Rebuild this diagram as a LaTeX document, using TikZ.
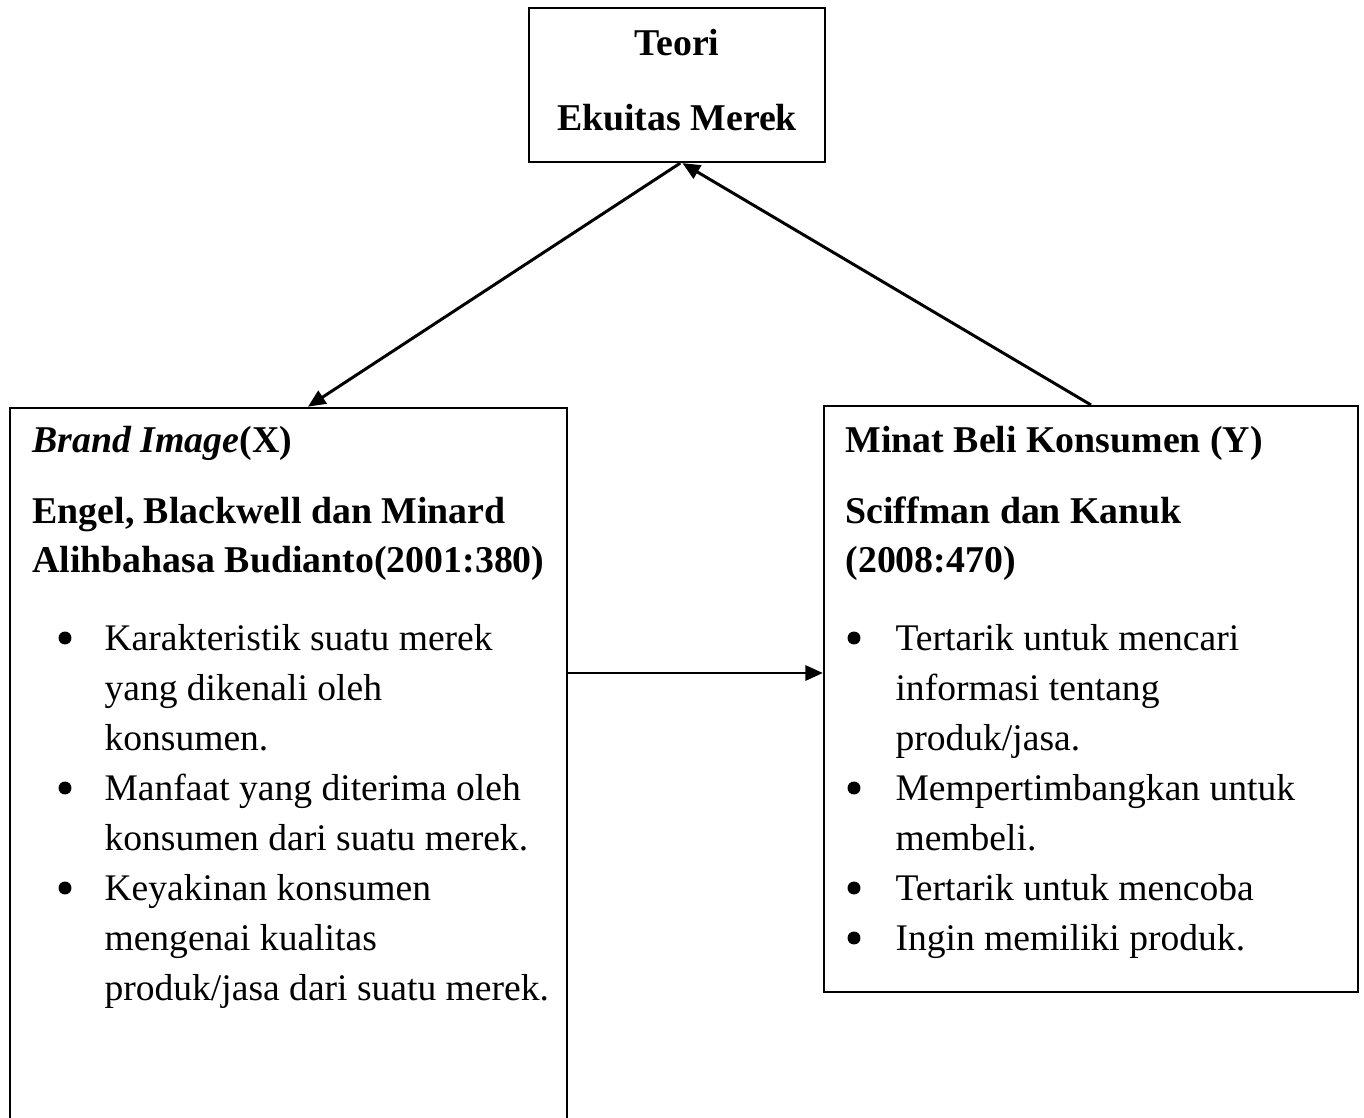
\documentclass[tikz,border=0pt]{standalone}
\usepackage{fontspec}
\setmainfont{Liberation Serif}
\usetikzlibrary{arrows.meta}

\begin{document}
\begin{tikzpicture}[x=0.37pt,y=-0.37pt]
	\tikzset{
		box/.style={draw, line width=0.8pt, inner sep=0pt},
		head/.style={anchor=base west, inner sep=0pt, font=\fontsize{14}{16}\selectfont\bfseries},
		title/.style={head, anchor=base},
		item/.style={anchor=base west, inner sep=0pt, font=\fontsize{13.9}{16}\selectfont},
		dot/.style={circle, fill=black, minimum size=4.8pt, inner sep=0pt},
		link/.style={line width=1.1pt, -{Triangle[length=6.5pt,width=5.6pt]}},
	}
	\useasboundingbox (0,0) rectangle (1364,1118);

	% Draw the three boxes first.
	\node[box, minimum width=109.5pt, minimum height=57pt] (teori) at (677,85) {};
	\node[box, minimum width=206pt, minimum height=271pt] (brand) at (288.5,774) {};
	\node[box, minimum width=197.6pt, minimum height=216.8pt] (minat) at (1091,699) {};

	% Top box: the theory.
	\node[title] (t1) at (677,55) {Teori};
	\node[title] (t2) at (677,130) {Ekuitas Merek};

	% Left box: brand image (X).
	\node[head] (x0) at (32,452) {\textit{Brand Image}(X)};
	\node[head] (x1) at (32,523) {Engel, Blackwell dan Minard};
	\node[head] (x2) at (32,572) {Alihbahasa Budianto(2001:380)};
	\node[dot] (xb1) at (65,638) {};
	\node[item] (xa1) at (104,650) {Karakteristik suatu merek};
	\node[item] (xa2) at (104,700) {yang dikenali oleh};
	\node[item] (xa3) at (104,750) {konsumen.};
	\node[dot] (xb2) at (65,788) {};
	\node[item] (xb1t) at (104,800) {Manfaat yang diterima oleh};
	\node[item] (xb2t) at (104,850) {konsumen dari suatu merek.};
	\node[dot] (xb3) at (65,888) {};
	\node[item] (xc1) at (104,900) {Keyakinan konsumen};
	\node[item] (xc2) at (104,950) {mengenai kualitas};
	\node[item] (xc3) at (104,1000) {produk/jasa dari suatu merek.};

	% Right box: purchase intention (Y).
	\node[head] (y0) at (845,452) {Minat Beli Konsumen (Y)};
	\node[head] (y1) at (845,523) {Sciffman dan Kanuk};
	\node[head] (y2) at (845,572) {(2008:470)};
	\node[dot] (yb1) at (854,638) {};
	\node[item] (ya1) at (895,650) {Tertarik untuk mencari};
	\node[item] (ya2) at (895,700) {informasi tentang};
	\node[item] (ya3) at (895,750) {produk/jasa.};
	\node[dot] (yb2) at (854,788) {};
	\node[item] (yb1t) at (895,800) {Mempertimbangkan untuk};
	\node[item] (yb2t) at (895,850) {membeli.};
	\node[dot] (yb3) at (854,888) {};
	\node[item] (yc1) at (895,900) {Tertarik untuk mencoba};
	\node[dot] (yb4) at (854,938) {};
	\node[item] (yd1) at (895,950) {Ingin memiliki produk.};

	% Connectors last.
	\coordinate (mid) at (0,673);
	\draw[link] ([xshift=1.2pt]teori.south) -- ([xshift=7.2pt]brand.north);
	\draw[link] (minat.north) -- ([xshift=2pt]teori.south);
	\draw[link] (brand.east |- mid) -- (minat.west |- mid);
\end{tikzpicture}
\end{document}
